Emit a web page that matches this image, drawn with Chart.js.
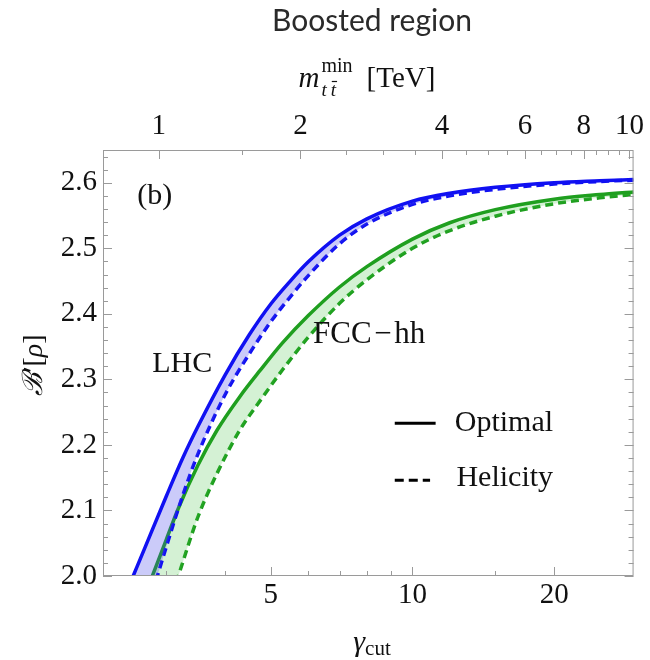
<!DOCTYPE html>
<html>
<head>
<meta charset="utf-8">
<script src="https://cdn.jsdelivr.net/npm/chart.js@4.4.0/dist/chart.umd.min.js"></script>
<style>
  html, body { margin: 0; padding: 0; background: #fff; }
</style>
</head>
<body>
<canvas id="chart" width="650" height="660"></canvas>
<script>
// gamma_cut grid and B'[rho]
const gammaLHC = [2.55, 2.7, 3.0, 3.25, 3.5, 4.0, 4.5, 5.0, 5.5, 6.0, 7.0, 8.0, 10, 12, 15, 20, 25, 29.5];
const lhcOptimal = [2.000, 2.043, 2.122, 2.180, 2.228, 2.307, 2.368, 2.415, 2.450, 2.479, 2.520, 2.545, 2.572, 2.584, 2.593, 2.600, 2.603, 2.605];
const lhcHelicity = [1.879, 1.937, 2.045, 2.123, 2.186, 2.277, 2.339, 2.388, 2.426, 2.458, 2.507, 2.537, 2.567, 2.580, 2.590, 2.598, 2.602, 2.604];

const gammaFCC = [2.79, 3.0, 3.18, 3.5, 3.84, 4.3, 4.75, 5.3, 6.0, 7.0, 8.0, 10, 12, 15, 20, 25, 29.5];
const fccOptimal = [1.997, 2.056, 2.103, 2.169, 2.222, 2.274, 2.314, 2.356, 2.397, 2.441, 2.472, 2.514, 2.539, 2.559, 2.575, 2.582, 2.586];
const fccHelicity = [1.877, 1.945, 2.000, 2.090, 2.156, 2.223, 2.268, 2.315, 2.364, 2.416, 2.452, 2.500, 2.527, 2.549, 2.568, 2.577, 2.582];

// axis ticks
const gammaTicks = [5, 10, 20];
const gammaMinorTicks = [3, 4, 6, 7, 8, 9, 15];
const massTicks = [1, 2, 4, 6, 8, 10];
const massMinorTicks = [1.5, 2.5, 3, 3.5, 4.5, 5, 5.5, 6.5, 7, 7.5, 8.5, 9, 9.5];
const yTicks = [2.0, 2.1, 2.2, 2.3, 2.4, 2.5, 2.6];

const X_MIN = 2.2, X_MAX = 29.5;
const Y_MIN = 2.0, Y_MAX = 2.65;
const TOP_MASS = 0.173; // TeV, m_tt = 2 m_t gamma

const BLUE = '#1010f2';
const BLUE_FILL = 'rgba(70, 70, 235, 0.28)';
const GREEN = '#1f9f1f';
const GREEN_FILL = 'rgba(60, 190, 60, 0.22)';
const FRAME = '#9a9a9a';
const SERIF = '"Liberation Serif", "Times New Roman", "DejaVu Serif", serif';

const yMinorTicks = [];
for (let v = 2.0; v < Y_MAX; v += 0.02) yMinorTicks.push(Math.round(v * 100) / 100);

const toPoints = (xs, ys) => xs.map((x, i) => ({ x: x, y: ys[i] }));

function lineSet(label, xs, ys, color, dashed, fillColor) {
  return {
    label: label,
    data: toPoints(xs, ys),
    borderColor: color,
    borderWidth: 3.5,
    borderDash: dashed ? [8, 5] : [],
    backgroundColor: fillColor || 'transparent',
    fill: fillColor ? '+1' : false,
    pointRadius: 0,
    cubicInterpolationMode: 'monotone'
  };
}

// inward frame ticks on all four sides, Mathematica style
const frameTicks = {
  id: 'frameTicks',
  afterDatasetsDraw(chart) {
    const { ctx, chartArea: a, scales } = chart;
    ctx.save();
    ctx.strokeStyle = FRAME;
    ctx.lineWidth = 1;
    ctx.strokeRect(a.left + 0.5, a.top + 0.5, a.right - a.left - 1, a.bottom - a.top - 1);

    const vtick = (scale, v, len, edgeY, dir) => {
      const px = Math.round(scale.getPixelForValue(v)) + 0.5;
      ctx.beginPath();
      ctx.moveTo(px, edgeY);
      ctx.lineTo(px, edgeY + dir * len);
      ctx.stroke();
    };
    const htick = (v, len) => {
      const py = Math.round(scales.y.getPixelForValue(v)) + 0.5;
      ctx.beginPath();
      ctx.moveTo(a.left, py); ctx.lineTo(a.left + len, py);
      ctx.moveTo(a.right, py); ctx.lineTo(a.right - len, py);
      ctx.stroke();
    };

    gammaTicks.forEach(v => vtick(scales.x, v, 9, a.bottom, -1));
    gammaMinorTicks.forEach(v => vtick(scales.x, v, 5, a.bottom, -1));
    massTicks.forEach(v => vtick(scales.xTop, v, 9, a.top, 1));
    massMinorTicks.forEach(v => vtick(scales.xTop, v, 5, a.top, 1));
    yMinorTicks.forEach(v => htick(v, yTicks.some(t => Math.abs(t - v) < 1e-6) ? 9 : 5));
    ctx.restore();
  }
};

// draws a row of text pieces, each {text, font, dy}
function drawRuns(ctx, runs, x, y, align) {
  let total = 0;
  runs.forEach(r => { ctx.font = r.font; r.w = ctx.measureText(r.text).width; total += r.w + (r.gap || 0); });
  let cx = align === 'center' ? x - total / 2 : x;
  runs.forEach(r => {
    ctx.font = r.font;
    ctx.fillText(r.text, cx, y + (r.dy || 0));
    cx += r.w + (r.gap || 0);
  });
}

const labels = {
  id: 'labels',
  afterDraw(chart) {
    const { ctx, scales } = chart;
    const sx = v => scales.x.getPixelForValue(v);
    const sy = v => scales.y.getPixelForValue(v);
    ctx.save();
    ctx.textBaseline = 'alphabetic';

    // header
    ctx.fillStyle = '#2a2a2a';
    ctx.font = '400 30px Lato, "Noto Sans", sans-serif';
    ctx.textAlign = 'center';
    ctx.fillText('Boosted region', 372, 31);
    ctx.textAlign = 'left';
    ctx.fillStyle = '#111';

    // top axis title: m_{t tbar}^{min} [TeV]
    const mainF = '29px ' + SERIF, itF = 'italic 29px ' + SERIF;
    const supF = '20px ' + SERIF, subF = 'italic 19px ' + SERIF;
    ctx.font = itF; const wm = ctx.measureText('m').width;
    ctx.font = supF; const wmin = ctx.measureText('min').width;
    ctx.font = mainF; const wtev = ctx.measureText('[TeV]').width;
    const tw = wm + 2 + wmin + 14 + wtev;
    let tx = 367 - tw / 2;
    const tb = 87;
    ctx.font = itF; ctx.fillText('m', tx, tb);
    tx += wm + 2;
    ctx.font = supF; ctx.fillText('min', tx, tb - 15);
    ctx.font = subF;
    const wt = ctx.measureText('t').width;
    ctx.fillText('t', tx, tb + 9);
    ctx.fillText('t', tx + wt + 4, tb + 9);
    ctx.strokeStyle = '#111'; ctx.lineWidth = 1.2;
    ctx.beginPath(); ctx.moveTo(tx + wt + 5, tb - 5.5); ctx.lineTo(tx + 2 * wt + 5, tb - 5.5); ctx.stroke();
    tx += wmin + 14;
    ctx.font = mainF; ctx.fillText('[TeV]', tx, tb);

    // bottom axis title: gamma_cut
    drawRuns(ctx, [
      { text: 'γ', font: 'italic 30px ' + SERIF },
      { text: 'cut', font: '21px ' + SERIF, dy: 4 }
    ], 372, 651, 'center');

    // y axis title: B'[rho]
    ctx.save();
    ctx.translate(32, 365);
    ctx.rotate(-Math.PI / 2);
    drawRuns(ctx, [
      { text: 'ℬ', font: 'italic 28px ' + SERIF },
      { text: '′[', font: '28px ' + SERIF },
      { text: 'ρ', font: 'italic 28px ' + SERIF },
      { text: ']', font: '28px ' + SERIF }
    ], 0, 10, 'center');
    ctx.restore();

    // in-plot labels, placed in data coordinates
    ctx.font = '30px ' + SERIF;
    ctx.fillText('(b)', sx(2.6), sy(2.568));
    ctx.fillText('LHC', sx(2.8), sy(2.312));
    ctx.font = '31px ' + SERIF;
    ctx.fillText('FCC\u200a\u2212\u200ahh', sx(6.15), sy(2.356));

    // legend
    ctx.font = '30px ' + SERIF;
    ctx.strokeStyle = '#000';
    ctx.lineWidth = 3;
    ctx.beginPath(); ctx.moveTo(sx(9.17), sy(2.233)); ctx.lineTo(sx(11.2), sy(2.233)); ctx.stroke();
    ctx.setLineDash([9, 5]);
    ctx.beginPath(); ctx.moveTo(sx(9.17), sy(2.146)); ctx.lineTo(sx(10.9), sy(2.146)); ctx.stroke();
    ctx.setLineDash([]);
    ctx.fillText('Optimal', sx(12.3), sy(2.222));
    ctx.fillText('Helicity', sx(12.4), sy(2.137));
    ctx.restore();
  }
};

const tickFont = { family: SERIF, size: 29 };
const noGrid = { display: false, drawTicks: false };

new Chart(document.getElementById('chart'), {
  type: 'line',
  data: {
    datasets: [
      lineSet('LHC optimal', gammaLHC, lhcOptimal, BLUE, false, BLUE_FILL),
      lineSet('LHC helicity', gammaLHC, lhcHelicity, BLUE, true),
      lineSet('FCC-hh optimal', gammaFCC, fccOptimal, GREEN, false, GREEN_FILL),
      lineSet('FCC-hh helicity', gammaFCC, fccHelicity, GREEN, true)
    ]
  },
  options: {
    responsive: false,
    animation: false,
    layout: { padding: { right: 15 } },
    plugins: { legend: { display: false }, tooltip: { enabled: false }, title: { display: false } },
    scales: {
      x: {
        type: 'logarithmic', position: 'bottom', min: X_MIN, max: X_MAX,
        afterBuildTicks: s => { s.ticks = gammaTicks.map(v => ({ value: v })); },
        afterFit: s => { s.height = 84; },
        ticks: { font: tickFont, color: '#111', padding: 2, maxRotation: 0, autoSkip: false, callback: v => String(v) },
        grid: noGrid, border: { display: false }
      },
      xTop: {
        type: 'logarithmic', position: 'top',
        min: 2 * TOP_MASS * X_MIN, max: 2 * TOP_MASS * X_MAX,
        afterBuildTicks: s => { s.ticks = massTicks.map(v => ({ value: v })); },
        afterFit: s => { s.height = 150; },
        ticks: { font: tickFont, color: '#111', padding: 6, maxRotation: 0, autoSkip: false, callback: v => String(v) },
        grid: noGrid, border: { display: false }
      },
      y: {
        type: 'linear', min: Y_MIN, max: Y_MAX,
        afterBuildTicks: s => { s.ticks = yTicks.map(v => ({ value: v })); },
        afterFit: s => { s.width = 103; },
        ticks: { font: tickFont, color: '#111', padding: 6, callback: v => v.toFixed(1) },
        grid: noGrid, border: { display: false }
      }
    }
  },
  plugins: [frameTicks, labels]
});
</script>
</body>
</html>
